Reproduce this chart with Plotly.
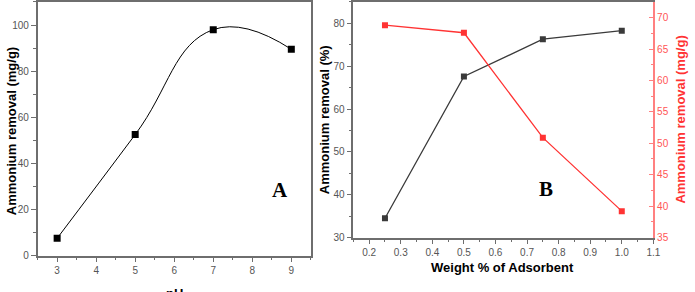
import plotly.graph_objects as go

# Panel A data
ph = [3, 5, 7, 9]
removal_mg_a = [7.5, 52.5, 98, 89.5]

# Panel B data
weight_pct = [0.25, 0.5, 0.75, 1.0]
removal_pct_b = [34.5, 67.6, 76.3, 78.3]
removal_mg_b = [68.8, 67.6, 50.9, 39.2]

W, H = 695, 292
def px_x(p): return p / W
def px_y(p): return (H - p) / H

GRAY = "#6e6e6e"
TICKC = "#555555"
RED = "#ff3333"
PINK = "#ff8080"
FONT = "Liberation Sans"

fig = go.Figure()
fig.add_trace(go.Scatter(x=ph, y=removal_mg_a, mode="lines+markers",
                         line=dict(color="black", width=1, shape="spline", smoothing=1.3),
                         marker=dict(symbol="square", size=7, color="black"),
                         xaxis="x", yaxis="y", showlegend=False))
fig.add_trace(go.Scatter(x=weight_pct, y=removal_pct_b, mode="lines+markers",
                         line=dict(color="#3a3a3a", width=1.3),
                         marker=dict(symbol="square", size=6, color="#3a3a3a"),
                         xaxis="x2", yaxis="y2", showlegend=False))
fig.add_trace(go.Scatter(x=weight_pct, y=removal_mg_b, mode="lines+markers",
                         line=dict(color=RED, width=1.3),
                         marker=dict(symbol="square", size=6, color=RED),
                         xaxis="x2", yaxis="y3", showlegend=False))

tickfont = dict(family=FONT, size=10, color=TICKC)
common = dict(showgrid=False, zeroline=False, showline=True, linecolor=GRAY, linewidth=1.5,
              ticks="outside", ticklen=5, tickwidth=1, tickcolor=GRAY, tickfont=tickfont,
              mirror=True)

fig.update_layout(
    width=W, height=H, margin=dict(l=0, r=0, t=0, b=0),
    plot_bgcolor="white", paper_bgcolor="white",
    xaxis=dict(domain=[px_x(38), px_x(314)], range=[2.5, 9.5], dtick=1, anchor="y",
               minor=dict(dtick=0.5, ticks="outside", ticklen=3, tickcolor=GRAY), **common),
    yaxis=dict(domain=[px_y(261), px_y(2)], range=[0, 110], dtick=20, anchor="x",
               minor=dict(dtick=10, ticks="outside", ticklen=3, tickcolor=GRAY), **common),
    xaxis2=dict(domain=[px_x(357), px_x(660)], range=[0.15, 1.1], dtick=0.1, anchor="y2",
                tickformat=".1f",
                minor=dict(dtick=0.05, ticks="outside", ticklen=3, tickcolor=GRAY), **common),
    yaxis2=dict(domain=[px_y(242.5), px_y(2)], range=[30, 85], dtick=10, anchor="x2",
                minor=dict(dtick=5, ticks="outside", ticklen=3, tickcolor=GRAY),
                showgrid=False, zeroline=False, showline=True, linecolor=GRAY, linewidth=1.5,
                ticks="outside", ticklen=5, tickwidth=1, tickcolor=GRAY, tickfont=tickfont),
    yaxis3=dict(range=[35, 72.5], dtick=5, overlaying="y2", side="right", anchor="x2",
                showgrid=False, zeroline=False, showline=True, linecolor=PINK, linewidth=1.5,
                ticks="inside", ticklen=5, tickwidth=1, tickcolor=PINK,
                tickfont=dict(family=FONT, size=10, color="#ff5555"),
                minor=dict(dtick=2.5, ticks="inside", ticklen=3, tickcolor=PINK)),
)

titlefont = dict(family=FONT, size=13, color="black", weight="bold")
ann = [
    dict(text="Ammonium removal (mg/g)", x=px_x(11), y=px_y(134), textangle=-90, font=titlefont),
    dict(text="Ammonium removal (%)", x=px_x(328), y=px_y(122), textangle=-90, font=titlefont),
    dict(text="Ammonium removal (mg/g)", x=px_x(687), y=px_y(122), textangle=-90,
         font=dict(family=FONT, size=13, color=RED, weight="bold")),
    dict(text="Weight % of Adsorbent", x=px_x(508), y=px_y(273), font=titlefont),
    dict(text="pH", x=px_x(176), y=px_y(290), yanchor="top", font=titlefont),
    dict(text="A", x=px_x(283), y=px_y(194),
         font=dict(family="Liberation Serif", size=21, color="black", weight="bold")),
    dict(text="B", x=px_x(552), y=px_y(193),
         font=dict(family="Liberation Serif", size=21, color="black", weight="bold")),
]
for a in ann:
    a.setdefault("xref", "paper"); a.setdefault("yref", "paper"); a["showarrow"] = False
    a.setdefault("xanchor", "center"); a.setdefault("yanchor", "middle")
fig.update_layout(annotations=ann)

fig.write_html("out.html", config={"displayModeBar": False},
               post_script="document.body.style.margin='0';document.body.style.overflow='hidden';")
